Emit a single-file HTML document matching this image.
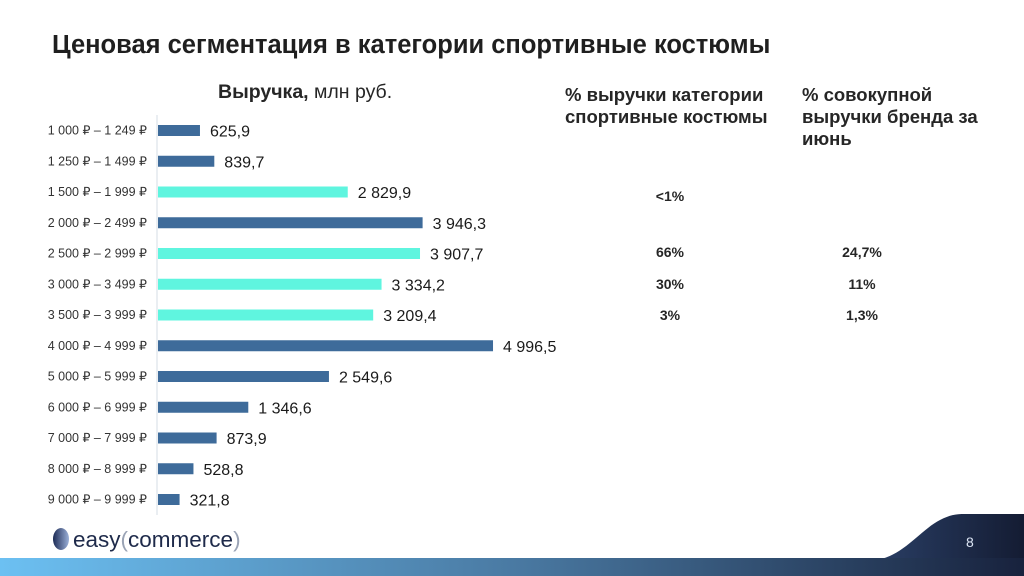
<!DOCTYPE html>
<html><head><meta charset="utf-8"><style>
body{margin:0;width:1024px;height:576px;overflow:hidden;background:#fff;font-family:"Liberation Sans",sans-serif;color:#262626;position:relative}
.t{position:absolute;white-space:nowrap}
.h{font-weight:bold;font-size:18.5px;line-height:22px}
.c{font-weight:bold;font-size:14px;position:absolute;transform:translateX(-50%)}
</style></head><body>
<div class="t" style="left:52px;top:31px;font-size:25.5px;font-weight:bold;color:#1f1f1f">Ценовая сегментация в категории спортивные костюмы</div>
<div class="t" style="left:218px;top:81px;font-size:19.5px"><b>Выручка,</b> млн руб.</div>
<div class="t h" style="left:565px;top:84px">% выручки категории<br>спортивные костюмы</div>
<div class="t h" style="left:802px;top:84px">% совокупной<br>выручки бренда за<br>июнь</div>
<svg id="chart" width="1024" height="576" style="position:absolute;left:0;top:0"></svg>
<div>
<div class="c" style="left:670px;top:188px">&lt;1%</div>
<div class="c" style="left:670px;top:244px">66%</div>
<div class="c" style="left:670px;top:276px">30%</div>
<div class="c" style="left:670px;top:307px">3%</div>
<div class="c" style="left:862px;top:244px">24,7%</div>
<div class="c" style="left:862px;top:276px">11%</div>
<div class="c" style="left:862px;top:307px">1,3%</div>
</div>
<svg width="1024" height="576" style="position:absolute;left:0;top:0">
<defs><linearGradient id="g" x1="0" x2="1"><stop offset="0" stop-color="#6cc0f2"/><stop offset="0.5" stop-color="#4a7aa3"/><stop offset="1" stop-color="#18223d"/></linearGradient>
<linearGradient id="g2" x1="0" x2="1"><stop offset="0" stop-color="#2a3f66"/><stop offset="1" stop-color="#141c33"/></linearGradient>
<linearGradient id="lg" x1="0" x2="1"><stop offset="0" stop-color="#1c2b55"/><stop offset="1" stop-color="#9bb0d8"/></linearGradient></defs>
<path d="M872 560 C 900 560, 920 530, 940 520 C 950 515, 955 514, 965 514 L1024 514 L1024 560 Z" fill="url(#g2)"/>
<rect x="0" y="558" width="1024" height="18" fill="url(#g)"/>
<ellipse cx="61" cy="539" rx="8" ry="11" fill="url(#lg)"/>
<text x="73" y="547" font-family="Liberation Sans" font-size="22.5" fill="#1e2a4a">easy<tspan fill="#9aa3b5">(</tspan>commerce<tspan fill="#9aa3b5">)</tspan></text>
<text x="966" y="547" font-family="Liberation Sans" font-size="14" fill="#dde6f5">8</text>
</svg>
<script>
const categories=["1 000 ₽ – 1 249 ₽","1 250 ₽ – 1 499 ₽","1 500 ₽ – 1 999 ₽","2 000 ₽ – 2 499 ₽","2 500 ₽ – 2 999 ₽","3 000 ₽ – 3 499 ₽","3 500 ₽ – 3 999 ₽","4 000 ₽ – 4 999 ₽","5 000 ₽ – 5 999 ₽","6 000 ₽ – 6 999 ₽","7 000 ₽ – 7 999 ₽","8 000 ₽ – 8 999 ₽","9 000 ₽ – 9 999 ₽"];
const revenue=[625.9,839.7,2829.9,3946.3,3907.7,3334.2,3209.4,4996.5,2549.6,1346.6,873.9,528.8,321.8];
const valueLabels=["625,9","839,7","2 829,9","3 946,3","3 907,7","3 334,2","3 209,4","4 996,5","2 549,6","1 346,6","873,9","528,8","321,8"];
const highlighted=[false,false,true,false,true,true,true,false,false,false,false,false,false];
const NS="http://www.w3.org/2000/svg",svg=document.getElementById('chart');
const x0=158,xs=v=>v*0.06705,yc=i=>130.5+i*30.75;
const ax=document.createElementNS(NS,'line');


ax.setAttribute('x1',157);ax.setAttribute('x2',157);ax.setAttribute('y1',115);ax.setAttribute('y2',515);ax.setAttribute('stroke','#d6dde6');
svg.appendChild(ax);
categories.forEach((c,i)=>{
 const t=document.createElementNS(NS,'text');
 
 
 t.setAttribute('x',147);t.setAttribute('y',yc(i)+4);t.setAttribute('text-anchor','end');t.setAttribute('font-size','12.5');t.setAttribute('fill','#333');t.setAttribute('font-family','Liberation Sans');
 t.textContent=c;svg.appendChild(t);
 const r=document.createElementNS(NS,'rect');
 
 
 r.setAttribute('x',x0);r.setAttribute('y',yc(i)-5.5);r.setAttribute('width',xs(revenue[i]));r.setAttribute('height',11);
 r.setAttribute('fill',highlighted[i]?'#5ff5df':'#3e6b9a');svg.appendChild(r);
 const v=document.createElementNS(NS,'text');
 
 
 v.setAttribute('x',x0+xs(revenue[i])+10);v.setAttribute('y',yc(i)+6);v.setAttribute('font-size','16');v.setAttribute('fill','#1a1a1a');v.setAttribute('font-family','Liberation Sans');
 v.textContent=valueLabels[i];svg.appendChild(v);
});
</script>
</body></html>
